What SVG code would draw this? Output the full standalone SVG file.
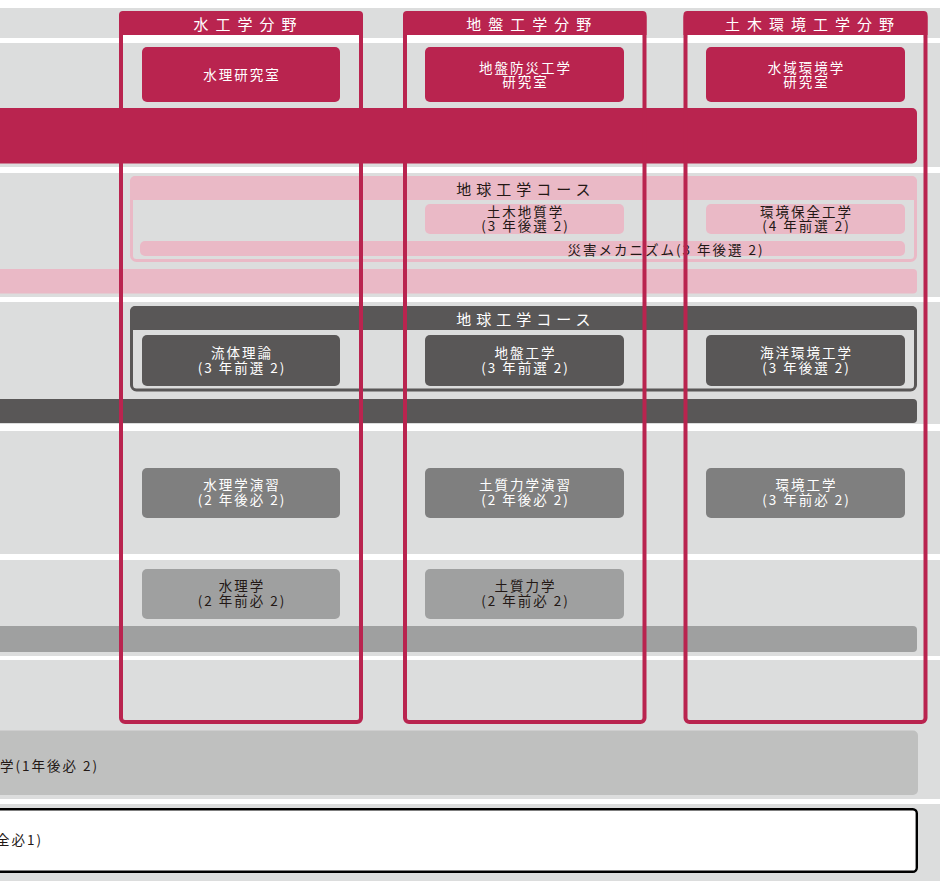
<svg xmlns="http://www.w3.org/2000/svg" width="940" height="881" viewBox="0 0 940 881">
  <style>
    .t{font-family:"Noto Sans CJK JP","Noto Sans",sans-serif;text-anchor:middle}
    .s{text-anchor:start}
    .tab{font-size:15px;letter-spacing:7px;fill:#fff}
    .ttl{font-size:15px;letter-spacing:5px}
    .bx{font-size:13.5px;letter-spacing:2px}
    .w{fill:#fff}
    .k{fill:#231815}
    .crim{fill:#b9244f}
    .pink{fill:#eab9c6}
    .dark{fill:#595757}
    .mid{fill:#7f7f7f}
    .lite{fill:#9fa0a0}
    .sep{fill:#fff}
    .frame{fill:none;stroke:#b9244f;stroke-width:4}
  </style>

  <!-- page and row stripes -->
  <g id="rows">
    <rect x="0" y="0" width="940" height="881" fill="#fff"/>
    <rect x="0" y="8" width="940" height="873" fill="#dcdddd"/>
    <rect class="sep" x="0" y="38" width="940" height="5"/>
    <rect class="sep" x="0" y="167" width="940" height="6"/>
    <rect class="sep" x="0" y="297" width="940" height="5"/>
    <rect class="sep" x="0" y="424" width="940" height="7"/>
    <rect class="sep" x="0" y="554" width="940" height="6"/>
    <rect class="sep" x="0" y="656" width="940" height="4"/>
    <rect class="sep" x="0" y="799" width="940" height="5"/>
  </g>

  <!-- full-width bands -->
  <g id="band-crimson"><rect class="crim" x="-10" y="108" width="927" height="55.5" rx="5"/></g>
  <g id="band-pink"><rect class="pink" x="-10" y="269" width="927" height="24.5" rx="4"/></g>
  <g id="band-dark"><rect class="dark" x="-10" y="399" width="927" height="24" rx="4"/></g>
  <g id="band-gray"><rect class="lite" x="-10" y="626" width="927" height="26" rx="4"/></g>
  <g id="band-intro">
    <rect x="-10" y="730.5" width="928" height="64.5" rx="5" fill="#bfc0bf"/>
    <text class="t s bx k" x="0" y="771">学(1年後必 2)</text>
  </g>
  <g id="band-seminar">
    <rect x="-10" y="809.2" width="926.8" height="62.5" rx="4" fill="#fff" stroke="#000" stroke-width="2.4"/>
    <text class="t s bx k" x="-4" y="844.5">全必1)</text>
  </g>

  <!-- elective course (pink) -->
  <g id="course-pink">
    <rect x="131.5" y="177.5" width="784" height="83" rx="5" fill="none" stroke="#eab9c6" stroke-width="3"/>
    <path class="pink" d="M130 200V181a5 5 0 0 1 5-5h777a5 5 0 0 1 5 5v19z"/>
    <text class="t ttl k" x="526" y="194.5">地球工学コース</text>
  </g>
  <g id="c-geology">
    <rect class="pink" x="425" y="204" width="199" height="30" rx="5"/>
    <text class="t bx k" x="525.5" y="217">土木地質学</text>
    <text class="t bx k" x="525.5" y="231">(3 年後選 2)</text>
  </g>
  <g id="c-envcons">
    <rect class="pink" x="706" y="204" width="199" height="30" rx="5"/>
    <text class="t bx k" x="806.5" y="217">環境保全工学</text>
    <text class="t bx k" x="806.5" y="231">(4 年前選 2)</text>
  </g>
  <g id="c-disaster">
    <rect class="pink" x="140" y="241" width="765" height="15" rx="5"/>
    <text class="t bx k" x="666" y="254.5">災害メカニズム(3 年後選 2)</text>
  </g>

  <!-- elective course (dark) -->
  <g id="course-dark">
    <rect x="131.5" y="307.5" width="784" height="82.5" rx="5" fill="none" stroke="#595757" stroke-width="3"/>
    <path class="dark" d="M130 330V311a5 5 0 0 1 5-5h777a5 5 0 0 1 5 5v19z"/>
    <text class="t ttl w" x="526" y="324.5">地球工学コース</text>
  </g>
  <g id="c-fluid">
    <rect class="dark" x="142" y="335" width="198" height="51" rx="5"/>
    <text class="t bx w" x="242" y="358">流体理論</text>
    <text class="t bx w" x="242" y="372.5">(3 年前選 2)</text>
  </g>
  <g id="c-geotech">
    <rect class="dark" x="425" y="335" width="199" height="51" rx="5"/>
    <text class="t bx w" x="525.5" y="358">地盤工学</text>
    <text class="t bx w" x="525.5" y="372.5">(3 年前選 2)</text>
  </g>
  <g id="c-ocean">
    <rect class="dark" x="706" y="335" width="199" height="51" rx="5"/>
    <text class="t bx w" x="806.5" y="358">海洋環境工学</text>
    <text class="t bx w" x="806.5" y="372.5">(3 年後選 2)</text>
  </g>

  <!-- required exercises -->
  <g id="c-hydex">
    <rect class="mid" x="142" y="468" width="198" height="50" rx="5"/>
    <text class="t bx w" x="242" y="490">水理学演習</text>
    <text class="t bx w" x="242" y="504.5">(2 年後必 2)</text>
  </g>
  <g id="c-soilex">
    <rect class="mid" x="425" y="468" width="199" height="50" rx="5"/>
    <text class="t bx w" x="525.5" y="490">土質力学演習</text>
    <text class="t bx w" x="525.5" y="504.5">(2 年後必 2)</text>
  </g>
  <g id="c-enveng">
    <rect class="mid" x="706" y="468" width="199" height="50" rx="5"/>
    <text class="t bx w" x="806.5" y="490">環境工学</text>
    <text class="t bx w" x="806.5" y="504.5">(3 年前必 2)</text>
  </g>

  <!-- required basics -->
  <g id="c-hyd">
    <rect class="lite" x="142" y="569" width="198" height="50" rx="5"/>
    <text class="t bx k" x="242" y="591">水理学</text>
    <text class="t bx k" x="242" y="605.5">(2 年前必 2)</text>
  </g>
  <g id="c-soil">
    <rect class="lite" x="425" y="569" width="199" height="50" rx="5"/>
    <text class="t bx k" x="525.5" y="591">土質力学</text>
    <text class="t bx k" x="525.5" y="605.5">(2 年前必 2)</text>
  </g>

  <!-- laboratories -->
  <g id="lab-hydraulics">
    <rect class="crim" x="142" y="47" width="198" height="55" rx="5"/>
    <text class="t bx w" x="242" y="80">水理研究室</text>
  </g>
  <g id="lab-geodisaster">
    <rect class="crim" x="425" y="47" width="199" height="55" rx="5"/>
    <text class="t bx w" x="525.5" y="72.5">地盤防災工学</text>
    <text class="t bx w" x="525.5" y="87">研究室</text>
  </g>
  <g id="lab-water-env">
    <rect class="crim" x="706" y="47" width="199" height="55" rx="5"/>
    <text class="t bx w" x="806.5" y="72.5">水域環境学</text>
    <text class="t bx w" x="806.5" y="87">研究室</text>
  </g>

  <!-- field columns -->
  <g id="field-hydraulic">
    <rect class="w" x="123" y="35" width="236" height="8"/>
    <rect class="frame" x="121" y="13" width="240" height="709" rx="4"/>
    <path class="crim" d="M119 35V15a4 4 0 0 1 4-4h236a4 4 0 0 1 4 4v20z"/>
    <text class="t tab" x="248.5" y="29.5">水工学分野</text>
  </g>
  <g id="field-geotechnical">
    <rect class="w" x="407" y="35" width="235.5" height="8"/>
    <rect class="frame" x="405" y="13" width="239.5" height="709" rx="4"/>
    <path class="crim" d="M403 35V15a4 4 0 0 1 4-4h235.5a4 4 0 0 1 4 4v20z"/>
    <text class="t tab" x="532.3" y="29.5">地盤工学分野</text>
  </g>
  <g id="field-environmental">
    <rect class="w" x="687.5" y="35" width="236" height="8"/>
    <rect class="frame" x="685.5" y="13" width="240" height="709" rx="4"/>
    <path class="crim" d="M683.5 35V15a4 4 0 0 1 4-4h236a4 4 0 0 1 4 4v20z"/>
    <text class="t tab" x="813.1" y="29.5">土木環境工学分野</text>
  </g>
</svg>
